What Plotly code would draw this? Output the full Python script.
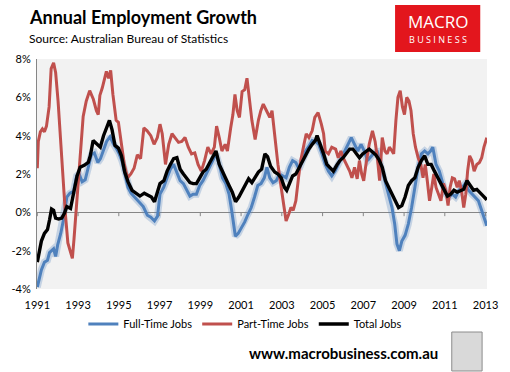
import plotly.graph_objects as go
from datetime import datetime

# ---- data: (decimal year, annual % growth) ----
full_time = [
    (1991.0, -3.9), (1991.1, -3.4), (1991.2, -3.0), (1991.35, -2.6), (1991.5, -2.5), (1991.6, -2.1),
    (1991.7, -2.0), (1991.8, -1.9), (1991.9, -2.3), (1992.0, -1.7), (1992.15, -1.1), (1992.3, -0.3),
    (1992.45, 0.8), (1992.6, 1.0), (1992.78, 1.1), (1992.93, 1.9), (1993.05, 2.0), (1993.2, 1.6),
    (1993.35, 1.7), (1993.5, 2.3), (1993.65, 3.0), (1993.8, 3.1), (1993.97, 2.6), (1994.1, 2.8),
    (1994.25, 3.2), (1994.4, 3.7), (1994.57, 3.95), (1994.72, 3.6), (1994.87, 3.35), (1995.0, 3.1),
    (1995.15, 2.7), (1995.3, 2.0), (1995.45, 1.3), (1995.6, 1.0), (1995.8, 0.75), (1996.0, 0.5),
    (1996.2, 0.3), (1996.4, -0.15), (1996.57, -0.25), (1996.75, -0.45), (1996.9, -0.2), (1997.02, 0.95),
    (1997.2, 1.3), (1997.37, 1.8), (1997.53, 2.25), (1997.69, 2.5), (1997.85, 2.1), (1998.01, 1.65),
    (1998.17, 1.5), (1998.33, 1.15), (1998.49, 0.85), (1998.65, 0.95), (1998.81, 0.95), (1998.97, 1.4),
    (1999.13, 1.65), (1999.29, 2.0), (1999.45, 2.35), (1999.61, 2.7), (1999.77, 3.05), (1999.93, 2.5),
    (2000.09, 1.8), (2000.25, 1.5), (2000.41, 0.95), (2000.54, 0.1), (2000.72, -1.25), (2000.86, -1.1),
    (2001.02, -0.8), (2001.18, -0.5), (2001.34, -0.1), (2001.5, 0.25), (2001.66, 0.8), (2001.82, 1.4),
    (2001.98, 1.5), (2002.14, 1.8), (2002.27, 2.35), (2002.41, 1.8), (2002.57, 1.55), (2002.73, 1.65),
    (2002.89, 2.0), (2003.05, 1.9), (2003.21, 1.8), (2003.37, 2.35), (2003.53, 2.7), (2003.69, 2.6),
    (2003.85, 2.25), (2004.01, 2.7), (2004.17, 3.2), (2004.33, 3.45), (2004.49, 3.75), (2004.65, 3.7),
    (2004.81, 3.55), (2004.97, 3.05), (2005.13, 2.5), (2005.29, 2.15), (2005.45, 1.9), (2005.61, 2.15),
    (2005.77, 2.5), (2005.93, 2.85), (2006.09, 3.2), (2006.25, 3.55), (2006.41, 3.9), (2006.57, 3.55),
    (2006.73, 3.2), (2006.89, 3.55), (2007.05, 3.2), (2007.21, 2.7), (2007.37, 2.9), (2007.53, 3.1),
    (2007.69, 3.15), (2007.8, 2.7), (2007.93, 2.15), (2008.09, 1.5), (2008.25, 0.95), (2008.41, 0.25),
    (2008.54, -0.6), (2008.65, -1.65), (2008.77, -2.0), (2008.89, -1.5), (2009.05, -1.2), (2009.21, -0.6),
    (2009.37, 0.25), (2009.53, 1.3), (2009.69, 2.35), (2009.85, 3.05), (2010.01, 3.2), (2010.17, 3.05),
    (2010.3, 3.2), (2010.41, 3.4), (2010.57, 2.5), (2010.73, 2.15), (2010.89, 1.5), (2011.05, 0.95),
    (2011.21, 0.8), (2011.37, 0.95), (2011.53, 0.8), (2011.69, 1.15), (2011.85, 1.3), (2012.01, 1.5),
    (2012.17, 1.15), (2012.33, 0.95), (2012.49, 0.8), (2012.65, 0.6), (2012.81, 0.1), (2012.94, -0.35),
    (2013.06, -0.7),
]

part_time = [
    (1991.0, 2.3), (1991.05, 3.7), (1991.15, 4.2), (1991.25, 4.35), (1991.35, 4.2), (1991.45, 4.5),
    (1991.58, 5.5), (1991.68, 7.5), (1991.8, 7.8), (1991.9, 7.3), (1992.02, 5.8), (1992.12, 4.0),
    (1992.25, 1.6), (1992.38, -0.1), (1992.5, -1.6), (1992.62, -2.0), (1992.72, -2.4), (1992.8, -1.4),
    (1992.88, -0.3), (1992.99, 1.3), (1993.1, 3.2), (1993.25, 5.0), (1993.4, 5.8), (1993.57, 6.35),
    (1993.75, 5.9), (1993.9, 5.3), (1993.99, 5.1), (1994.07, 6.1), (1994.19, 6.5), (1994.28, 6.85),
    (1994.39, 7.35), (1994.5, 7.0), (1994.6, 7.4), (1994.71, 6.15), (1994.87, 4.8), (1994.98, 4.7),
    (1995.11, 3.7), (1995.27, 2.5), (1995.43, 1.8), (1995.59, 2.0), (1995.75, 2.3), (1995.91, 3.0),
    (1996.07, 2.8), (1996.23, 4.4), (1996.39, 4.25), (1996.57, 4.0), (1996.73, 3.55), (1996.89, 3.9),
    (1997.02, 4.6), (1997.13, 4.1), (1997.29, 2.5), (1997.45, 3.55), (1997.61, 4.1), (1997.77, 3.9),
    (1997.93, 3.65), (1998.09, 3.7), (1998.25, 3.9), (1998.41, 3.4), (1998.57, 3.05), (1998.73, 3.1),
    (1998.89, 2.5), (1999.05, 2.15), (1999.21, 2.7), (1999.37, 3.4), (1999.53, 3.05), (1999.69, 3.4),
    (1999.8, 4.5), (1999.93, 3.9), (2000.06, 3.2), (2000.22, 3.55), (2000.33, 3.2), (2000.49, 4.4),
    (2000.6, 5.1), (2000.7, 6.15), (2000.81, 5.3), (2000.92, 4.95), (2001.05, 6.3), (2001.18, 6.4),
    (2001.29, 7.0), (2001.4, 6.0), (2001.53, 4.8), (2001.69, 3.8), (2001.85, 4.8), (2001.97, 5.3),
    (2002.09, 5.65), (2002.25, 5.3), (2002.41, 4.95), (2002.52, 5.3), (2002.65, 3.9), (2002.81, 2.5),
    (2002.97, 1.3), (2003.08, 0.45), (2003.21, -0.45), (2003.34, -0.1), (2003.45, 0.25), (2003.56, 0.1),
    (2003.69, 0.6), (2003.82, 1.8), (2003.93, 2.7), (2004.09, 3.55), (2004.2, 4.1), (2004.33, 3.9),
    (2004.49, 4.25), (2004.62, 4.95), (2004.78, 5.2), (2004.94, 4.6), (2005.05, 4.1), (2005.13, 3.2),
    (2005.29, 3.05), (2005.45, 3.4), (2005.64, 3.3), (2005.77, 2.85), (2005.9, 3.2), (2006.01, 2.85),
    (2006.17, 2.5), (2006.33, 2.15), (2006.44, 1.8), (2006.57, 2.35), (2006.7, 1.75), (2006.81, 2.7),
    (2006.92, 2.0), (2007.02, 1.65), (2007.13, 2.5), (2007.29, 3.55), (2007.45, 4.25), (2007.58, 3.7),
    (2007.69, 2.85), (2007.8, 1.65), (2007.93, 3.9), (2008.06, 3.2), (2008.17, 3.05), (2008.28, 3.4),
    (2008.41, 3.2), (2008.49, 3.05), (2008.6, 4.8), (2008.7, 6.0), (2008.81, 6.35), (2008.92, 5.5),
    (2009.02, 5.1), (2009.13, 6.0), (2009.24, 5.8), (2009.34, 5.3), (2009.45, 4.1), (2009.56, 3.4),
    (2009.69, 2.85), (2009.82, 2.5), (2009.93, 1.8), (2010.04, 2.5), (2010.14, 1.65), (2010.25, 0.6),
    (2010.36, 1.3), (2010.46, 2.0), (2010.57, 1.3), (2010.68, 0.95), (2010.81, 0.6), (2010.94, 1.5),
    (2011.05, 1.15), (2011.16, 0.35), (2011.26, 1.3), (2011.37, 1.8), (2011.48, 1.75), (2011.61, 1.3),
    (2011.71, 1.65), (2011.82, 1.15), (2011.93, 0.25), (2012.03, 0.95), (2012.12, 2.15), (2012.22, 2.95),
    (2012.33, 2.7), (2012.44, 2.15), (2012.57, 2.5), (2012.7, 2.6), (2012.81, 2.85), (2012.92, 3.4),
    (2013.06, 3.9),
]

total = [
    (1991.0, -2.6), (1991.1, -2.0), (1991.2, -1.5), (1991.35, -1.1), (1991.5, -0.9), (1991.6, -0.4),
    (1991.7, 0.17), (1991.8, 0.1), (1991.9, -0.3), (1992.05, -0.35), (1992.2, -0.3), (1992.33, -0.05),
    (1992.45, 0.3), (1992.63, 0.2), (1992.8, 1.0), (1992.95, 1.9), (1993.1, 2.35), (1993.3, 2.45),
    (1993.5, 2.6), (1993.6, 2.95), (1993.74, 3.75), (1993.93, 3.55), (1994.09, 3.4), (1994.25, 4.0),
    (1994.41, 4.5), (1994.54, 4.8), (1994.67, 4.3), (1994.81, 3.5), (1994.98, 3.35), (1995.13, 2.95),
    (1995.29, 2.1), (1995.45, 1.6), (1995.65, 1.15), (1995.85, 1.0), (1996.04, 0.85), (1996.25, 1.0),
    (1996.45, 0.9), (1996.6, 0.8), (1996.75, 0.55), (1996.89, 1.05), (1997.02, 1.5), (1997.21, 1.65),
    (1997.37, 2.15), (1997.53, 2.5), (1997.69, 2.8), (1997.85, 2.85), (1998.01, 2.25), (1998.17, 2.0),
    (1998.33, 1.8), (1998.49, 1.55), (1998.65, 1.5), (1998.81, 1.5), (1998.97, 1.8), (1999.13, 2.1),
    (1999.29, 2.25), (1999.45, 2.55), (1999.61, 2.85), (1999.77, 3.2), (1999.93, 2.5), (2000.09, 2.1),
    (2000.25, 1.75), (2000.41, 1.4), (2000.57, 1.05), (2000.73, 0.55), (2000.89, 0.8), (2001.05, 1.15),
    (2001.21, 1.4), (2001.37, 1.75), (2001.53, 1.55), (2001.69, 1.8), (2001.85, 2.1), (2002.01, 2.25),
    (2002.17, 3.05), (2002.3, 2.9), (2002.45, 2.4), (2002.65, 2.1), (2002.81, 2.0), (2002.97, 1.8),
    (2003.13, 1.3), (2003.24, 1.15), (2003.37, 1.5), (2003.53, 1.9), (2003.69, 2.0), (2003.85, 2.35),
    (2004.01, 2.7), (2004.17, 3.05), (2004.33, 3.3), (2004.49, 3.55), (2004.65, 3.75), (2004.73, 4.0),
    (2004.89, 3.55), (2005.05, 3.05), (2005.21, 2.5), (2005.37, 2.35), (2005.53, 2.15), (2005.69, 2.45),
    (2005.85, 2.7), (2006.01, 2.85), (2006.17, 3.1), (2006.33, 3.3), (2006.49, 3.3), (2006.65, 3.1),
    (2006.81, 2.85), (2006.97, 3.05), (2007.13, 3.2), (2007.29, 3.3), (2007.45, 3.15), (2007.61, 3.0),
    (2007.77, 2.75), (2007.93, 2.35), (2008.09, 1.65), (2008.25, 1.3), (2008.41, 0.95), (2008.57, 0.6),
    (2008.73, 0.25), (2008.89, 0.35), (2009.05, 0.8), (2009.21, 1.4), (2009.37, 1.65), (2009.53, 1.8),
    (2009.69, 2.35), (2009.85, 2.7), (2010.01, 2.95), (2010.17, 2.5), (2010.33, 2.5), (2010.49, 2.15),
    (2010.65, 1.8), (2010.81, 1.5), (2010.97, 1.15), (2011.13, 0.85), (2011.29, 0.95), (2011.45, 1.15),
    (2011.61, 1.05), (2011.77, 1.15), (2011.93, 1.2), (2012.09, 1.65), (2012.25, 1.4), (2012.41, 1.15),
    (2012.57, 1.2), (2012.73, 1.05), (2012.89, 0.85), (2013.06, 0.65),
]

tick_years = [1991, 1993, 1995, 1997, 1999, 2001, 2003, 2005, 2007, 2009, 2011, 2013]
y_ticks = [-4, -2, 0, 2, 4, 6, 8]
series_names = ["Full-Time Jobs", "Part-Time Jobs", "Total Jobs"]
series_colors = ["#4F81BD", "#C0504D", "#000000"]


def to_date(y):
    yr = int(y)
    start = datetime(yr, 1, 1)
    end = datetime(yr + 1, 1, 1)
    return start + (end - start) * (y - yr)


def split(pairs):
    return [to_date(p[0]) for p in pairs], [p[1] for p in pairs]


FONT = "Lato, 'Liberation Sans', sans-serif"

fig = go.Figure()

# soft glow under the full-time line
fx, fy = split(full_time)
fig.add_trace(go.Scatter(x=fx, y=fy, mode="lines", showlegend=False, hoverinfo="skip",
                         line=dict(color="rgba(79,129,189,0.28)", width=7)))

for data, name, color, width in zip([full_time, part_time, total], series_names,
                                    series_colors, [3, 3, 3.4]):
    xs, ys = split(data)
    fig.add_trace(go.Scatter(x=xs, y=ys, mode="lines", name=name,
                             line=dict(color=color, width=width)))

# small tick marks hanging from the 0% line
shapes = []
for ty in tick_years:
    shapes.append(dict(type="line", xref="x", yref="y", x0=to_date(ty), x1=to_date(ty),
                       y0=0, y1=-0.2, line=dict(color="#868686", width=1)))

# MacroBusiness logo box and wolf picture placeholder
shapes.append(dict(type="rect", xref="paper", yref="paper", x0=0.7957, x1=0.985, y0=1.030, y1=1.235,
                   fillcolor="#E3161D", line=dict(width=0), layer="above"))
shapes.append(dict(type="rect", xref="paper", yref="paper", x0=0.9217, x1=0.9891, y0=-0.3565, y1=-0.187,
                   fillcolor="#D9D9D9", line=dict(color="#8C8C8C", width=1)))

annotations = [
    dict(text="<b>Annual Employment Growth</b>", xref="paper", yref="paper", x=-0.0217, y=1.183,
         xanchor="left", yanchor="middle", showarrow=False, font=dict(family=FONT, size=18, color="#000")),
    dict(text="Source: Australian Bureau of Statistics", xref="paper", yref="paper", x=-0.0217, y=1.091,
         xanchor="left", yanchor="middle", showarrow=False, font=dict(family=FONT, size=12, color="#000")),
    dict(text="MACRO", xref="paper", yref="paper", x=0.891, y=1.165, xanchor="center", yanchor="middle",
         showarrow=False, font=dict(family="'Open Sans', sans-serif", size=17, color="#FFFFFF")),
    dict(text="B U S I N E S S", xref="paper", yref="paper", x=0.891, y=1.083, xanchor="center",
         yanchor="middle", showarrow=False, font=dict(family="'Open Sans', sans-serif", size=9, color="#FFFFFF")),
    dict(text="<b>www.macrobusiness.com.au</b>", xref="paper", yref="paper", x=0.680, y=-0.278,
         xanchor="center", yanchor="middle", showarrow=False, font=dict(family=FONT, size=15, color="#000")),
]

fig.update_layout(
    width=510, height=372,
    margin=dict(l=32, r=18, t=59, b=83),
    paper_bgcolor="#FFFFFF", plot_bgcolor="#F2F2F2",
    font=dict(family=FONT, size=11, color="#000"),
    shapes=shapes, annotations=annotations,
    legend=dict(orientation="h", x=0.463, xanchor="center", y=-0.152, yanchor="middle",
                font=dict(family=FONT, size=11, color="#000"), bgcolor="rgba(0,0,0,0)",
                itemwidth=30, traceorder="normal"),
    xaxis=dict(type="date", range=[to_date(1990.985), to_date(2013.07)],
               tickvals=[to_date(t) for t in tick_years], ticktext=[str(t) for t in tick_years],
               showgrid=False, zeroline=False, showline=False, ticks="",
               tickfont=dict(family=FONT, size=11), ticklabelstandoff=8),
    yaxis=dict(range=[-4, 8], tickvals=y_ticks, ticktext=[f"{v}%" for v in y_ticks],
               showgrid=False, zeroline=True, zerolinecolor="#868686", zerolinewidth=1,
               showline=True, linecolor="#868686", linewidth=1, ticks="",
               tickfont=dict(family=FONT, size=11), ticklabelstandoff=3),
)

fig.write_html("out.html", config={"displayModeBar": False},
               post_script="document.body.style.margin='0';document.body.style.padding='0';")
